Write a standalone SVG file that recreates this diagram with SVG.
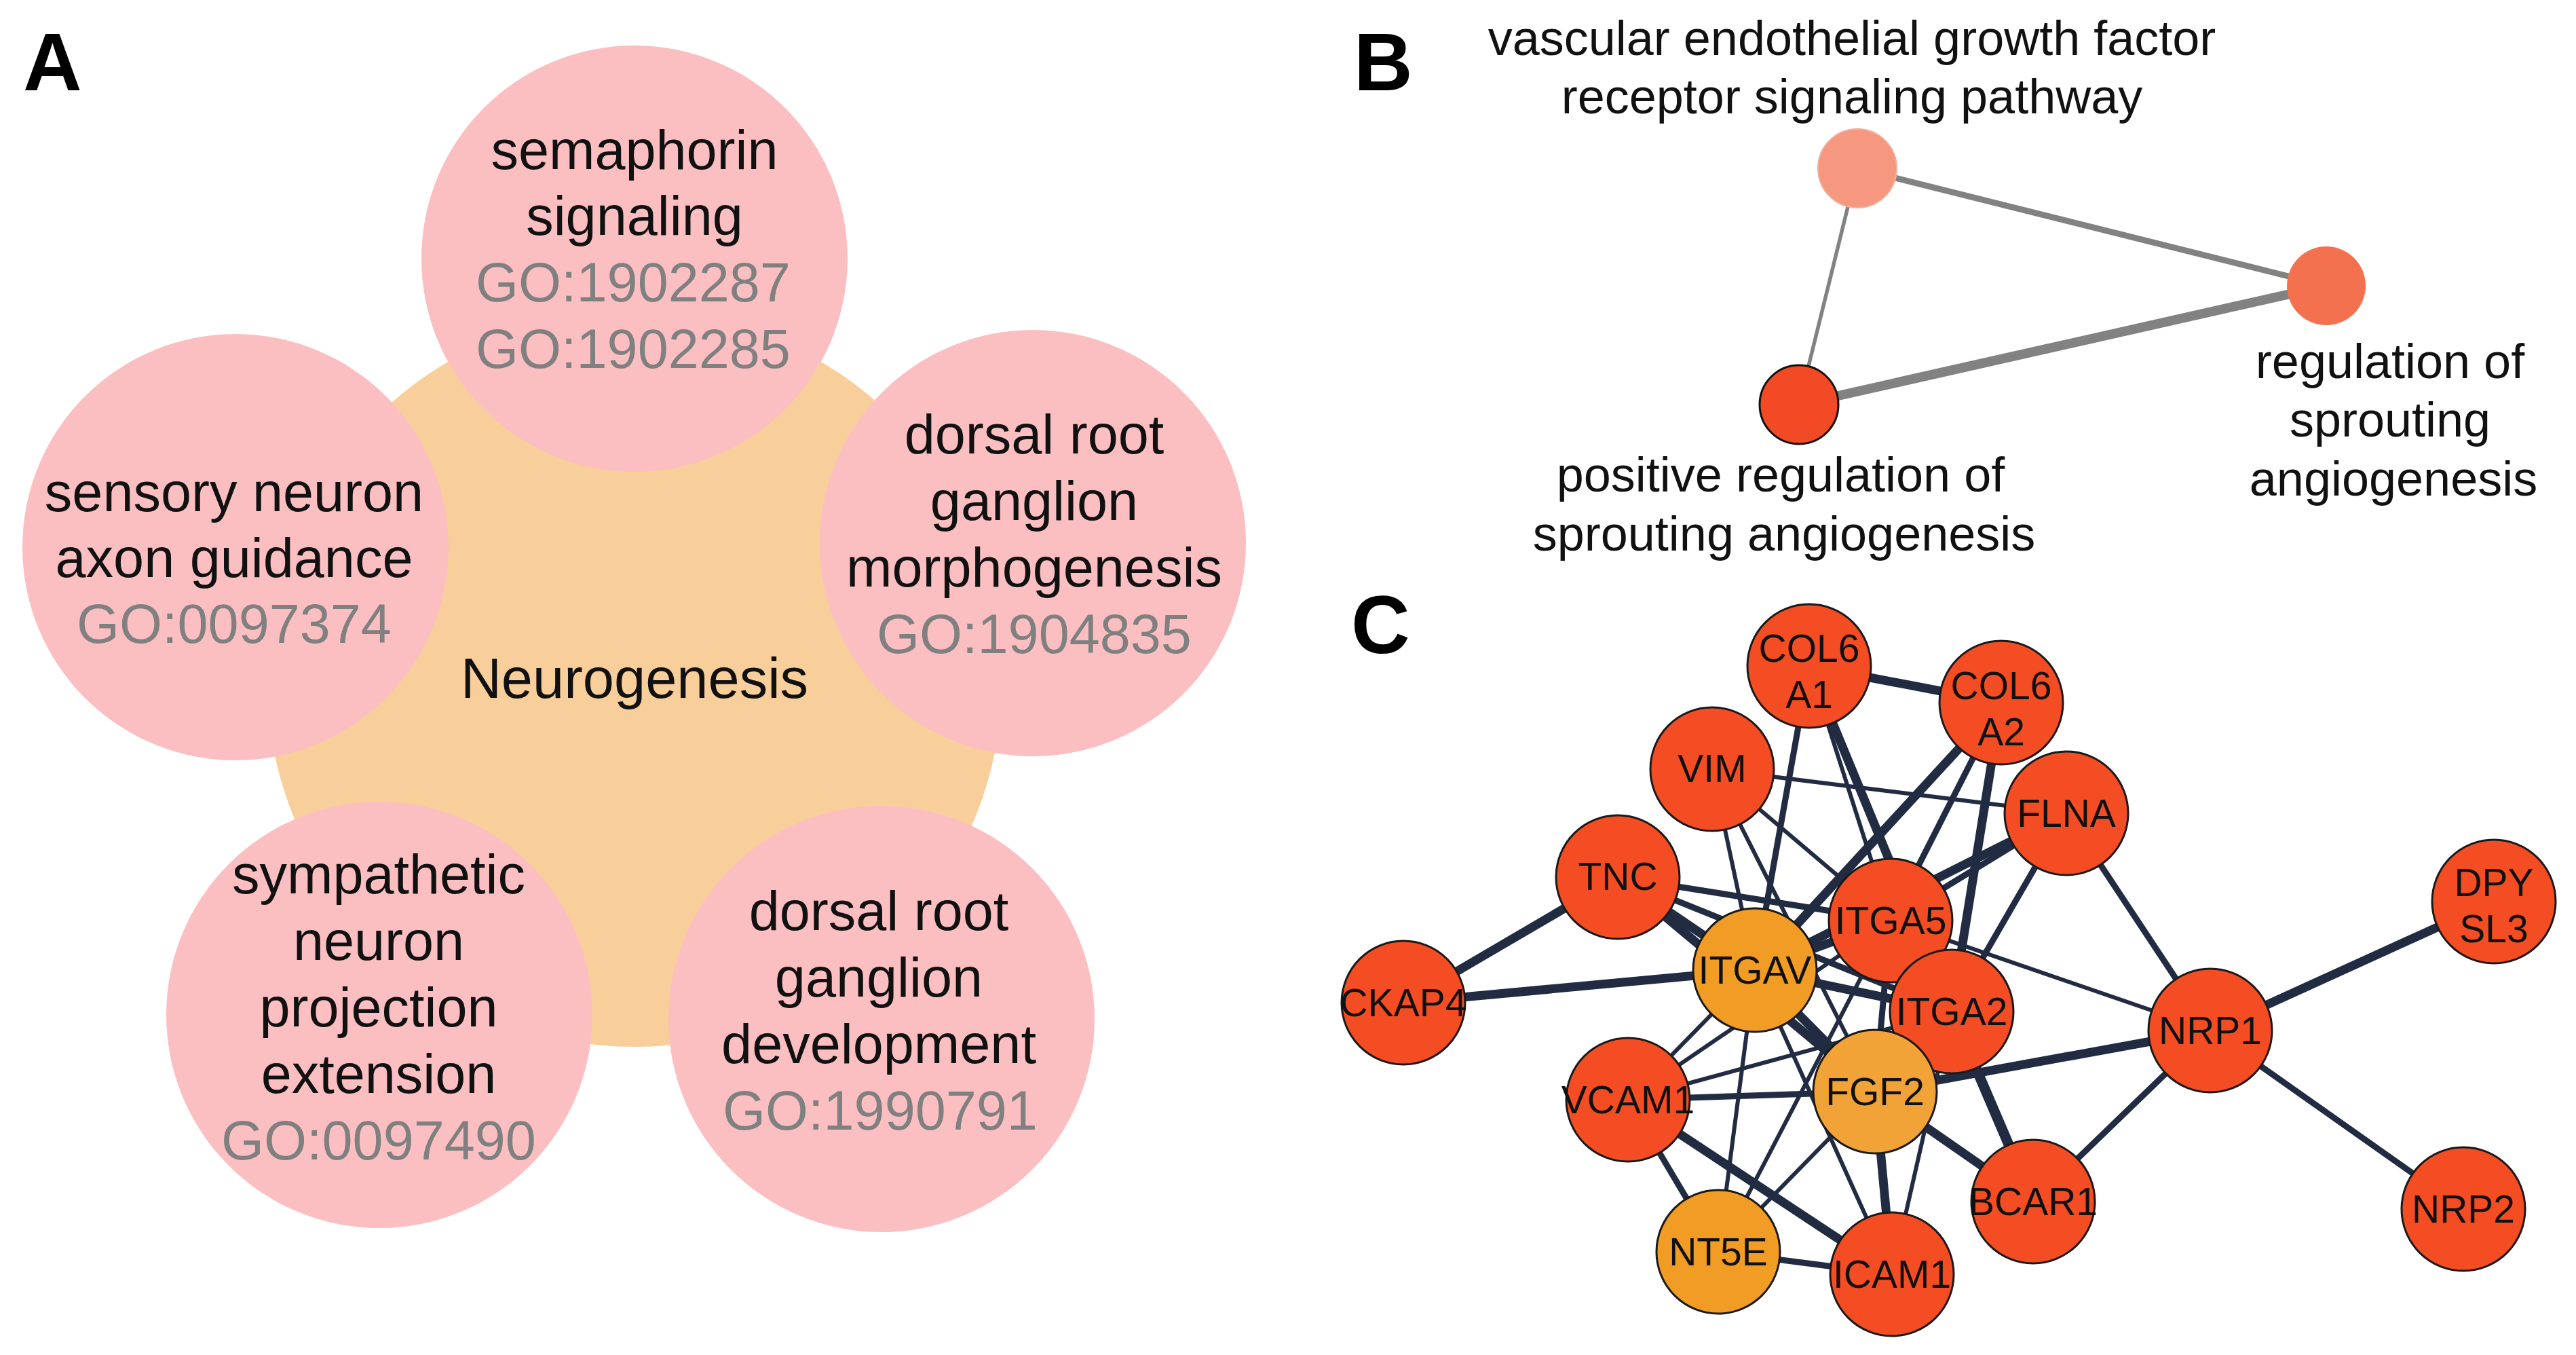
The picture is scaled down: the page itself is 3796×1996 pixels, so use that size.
<svg xmlns="http://www.w3.org/2000/svg" width="3796" height="1996" viewBox="0 0 3796 1996">
<style>
text{font-family:"Liberation Sans",Arial,sans-serif}
.lbl{font-size:120px;font-weight:bold;fill:#000}
.ta{font-size:81px;fill:#111;text-anchor:middle}
.go{font-size:81px;fill:#808080;text-anchor:middle}
.tb{font-size:72px;fill:#111;text-anchor:middle}
.tc{font-size:57px;fill:#111;text-anchor:middle}
.pink{fill:#FBBFC1}
.eb{stroke:#828282;stroke-linecap:round}
.ec{stroke:#212B42;stroke-linecap:butt}
.w1{stroke-width:6}
.w2{stroke-width:9}
.w3{stroke-width:13}
.red{fill:#F44D24;stroke:#1a1a1a;stroke-width:3}
.org{fill:#F09C25;stroke:#1a1a1a;stroke-width:3}
</style>
<rect width="3796" height="1996" fill="#fff"/>

<!-- Panel A -->
<text class="lbl" x="34" y="133">A</text>
<g id="neurogenesis">
<circle cx="935" cy="1000" r="542" fill="#F8CF9B"/>
<text class="ta" x="935" y="1028" style="font-size:83px">Neurogenesis</text>
</g>
<g id="semaphorin">
<circle class="pink" cx="935" cy="381" r="314"/>
<text class="ta" x="935" y="249">semaphorin</text>
<text class="ta" x="935" y="346">signaling</text>
<text class="go" x="933" y="444">GO:1902287</text>
<text class="go" x="933" y="542">GO:1902285</text>
</g>
<g id="sensory">
<circle class="pink" cx="347" cy="806" r="314"/>
<text class="ta" x="345" y="753">sensory neuron</text>
<text class="ta" x="345" y="850">axon guidance</text>
<text class="go" x="345" y="947">GO:0097374</text>
</g>
<g id="drg-morph">
<circle class="pink" cx="1522" cy="800" r="314"/>
<text class="ta" x="1524" y="668">dorsal root</text>
<text class="ta" x="1524" y="766">ganglion</text>
<text class="ta" x="1524" y="864">morphogenesis</text>
<text class="go" x="1524" y="962">GO:1904835</text>
</g>
<g id="sympathetic">
<circle class="pink" cx="559" cy="1495" r="314"/>
<text class="ta" x="558" y="1316">sympathetic</text>
<text class="ta" x="558" y="1414">neuron</text>
<text class="ta" x="558" y="1512">projection</text>
<text class="ta" x="558" y="1610">extension</text>
<text class="go" x="558" y="1708">GO:0097490</text>
</g>
<g id="drg-dev">
<circle class="pink" cx="1299" cy="1501" r="314"/>
<text class="ta" x="1295" y="1370">dorsal root</text>
<text class="ta" x="1295" y="1468">ganglion</text>
<text class="ta" x="1295" y="1566">development</text>
<text class="go" x="1297" y="1664">GO:1990791</text>
</g>

<!-- Panel B -->
<text class="lbl" x="1995" y="133">B</text>
<g id="b-edges">
<line class="eb" x1="2737" y1="248" x2="3428" y2="421" stroke-width="9"/>
<line class="eb" x1="2737" y1="248" x2="2651" y2="596" stroke-width="5.5"/>
<line class="eb" x1="2651" y1="596" x2="3428" y2="421" stroke-width="14"/>
</g>
<g id="b-vegf">
<circle cx="2737" cy="248" r="58" fill="#F5987F" stroke="#F2AE9C" stroke-width="2"/>
<text class="tb" x="2729" y="81">vascular endothelial growth factor</text>
<text class="tb" x="2729" y="167">receptor signaling pathway</text>
</g>
<g id="b-reg">
<circle cx="3428" cy="421" r="58" fill="#F3714F"/>
<text class="tb" x="3522" y="557">regulation of</text>
<text class="tb" x="3522" y="643">sprouting</text>
<text class="tb" x="3527" y="730">angiogenesis</text>
</g>
<g id="b-pos">
<circle cx="2651" cy="596" r="58" fill="#F24A24" stroke="#111" stroke-width="3"/>
<text class="tb" x="2624" y="724">positive regulation of</text>
<text class="tb" x="2629" y="811">sprouting angiogenesis</text>
</g>

<!-- Panel C -->
<text class="lbl" x="1991" y="962">C</text>
<g id="c-edges" class="ec">
<line class="w3" x1="2068" y1="1477" x2="2384" y2="1292"/>
<line class="w3" x1="2068" y1="1477" x2="2586" y2="1429"/>
<line class="w3" x1="2666" y1="981" x2="2949" y2="1035"/>
<line class="w2" x1="2666" y1="981" x2="2586" y2="1429"/>
<line class="w3" x1="2666" y1="981" x2="2876" y2="1490"/>
<line class="w1" x1="2666" y1="981" x2="2786" y2="1356"/>
<line class="w3" x1="2949" y1="1035" x2="2586" y2="1429"/>
<line class="w2" x1="2949" y1="1035" x2="2786" y2="1356"/>
<line class="w3" x1="2949" y1="1035" x2="2876" y2="1490"/>
<line class="w1" x1="2523" y1="1133" x2="3045" y2="1198"/>
<line class="w1" x1="2523" y1="1133" x2="2586" y2="1429"/>
<line class="w1" x1="2523" y1="1133" x2="2763" y2="1608"/>
<line class="w1" x1="2523" y1="1133" x2="2786" y2="1356"/>
<line class="w2" x1="2384" y1="1292" x2="2786" y2="1356"/>
<line class="w3" x1="2384" y1="1292" x2="2586" y2="1429"/>
<line class="w3" x1="2384" y1="1292" x2="2763" y2="1608"/>
<line class="w2" x1="2384" y1="1292" x2="2876" y2="1490"/>
<line class="w2" x1="3045" y1="1198" x2="2786" y2="1356"/>
<line class="w3" x1="3045" y1="1198" x2="2586" y2="1429"/>
<line class="w2" x1="3045" y1="1198" x2="2876" y2="1490"/>
<line class="w2" x1="3045" y1="1198" x2="3257" y2="1518"/>
<line class="w1" x1="2786" y1="1356" x2="3257" y2="1518"/>
<line class="w3" x1="2786" y1="1356" x2="2586" y2="1429"/>
<line class="w2" x1="2786" y1="1356" x2="2876" y2="1490"/>
<line class="w2" x1="2786" y1="1356" x2="2763" y2="1608"/>
<line class="w3" x1="2586" y1="1429" x2="2876" y2="1490"/>
<line class="w3" x1="2586" y1="1429" x2="2763" y2="1608"/>
<line class="w1" x1="2586" y1="1429" x2="2399" y2="1620"/>
<line class="w1" x1="2586" y1="1429" x2="2532" y2="1844"/>
<line class="w1" x1="2586" y1="1429" x2="2788" y2="1877"/>
<line class="w1" x1="2399" y1="1620" x2="2786" y2="1356"/>
<line class="w1" x1="2399" y1="1620" x2="2876" y2="1490"/>
<line class="w2" x1="2399" y1="1620" x2="2763" y2="1608"/>
<line class="w3" x1="2399" y1="1620" x2="2788" y2="1877"/>
<line class="w2" x1="2399" y1="1620" x2="2532" y2="1844"/>
<line class="w2" x1="2532" y1="1844" x2="2788" y2="1877"/>
<line class="w1" x1="2532" y1="1844" x2="2763" y2="1608"/>
<line class="w1" x1="2532" y1="1844" x2="2786" y2="1356"/>
<line class="w3" x1="2763" y1="1608" x2="2788" y2="1877"/>
<line class="w1" x1="2876" y1="1490" x2="2788" y2="1877"/>
<line class="w2" x1="2876" y1="1490" x2="2763" y2="1608"/>
<line class="w3" x1="2763" y1="1608" x2="3257" y2="1518"/>
<line class="w3" x1="2763" y1="1608" x2="2996" y2="1770"/>
<line stroke-width="15" x1="2876" y1="1490" x2="2996" y2="1770"/>
<line class="w2" x1="3257" y1="1518" x2="2996" y2="1770"/>
<line class="w3" x1="3257" y1="1518" x2="3675" y2="1328"/>
<line class="w2" x1="3257" y1="1518" x2="3630" y2="1781"/>
</g>
<g id="COL6A1"><circle class="red" cx="2666" cy="981" r="91"/><text class="tc" x="2666" y="975">COL6</text><text class="tc" x="2666" y="1043">A1</text></g>
<g id="COL6A2"><circle class="red" cx="2949" cy="1035" r="91"/><text class="tc" x="2949" y="1030">COL6</text><text class="tc" x="2949" y="1098">A2</text></g>
<g id="VIM"><circle class="red" cx="2523" cy="1133" r="91"/><text class="tc" x="2523" y="1152">VIM</text></g>
<g id="FLNA"><circle class="red" cx="3045" cy="1198" r="91"/><text class="tc" x="3045" y="1218">FLNA</text></g>
<g id="TNC"><circle class="red" cx="2384" cy="1292" r="91"/><text class="tc" x="2384" y="1311">TNC</text></g>
<g id="DPYSL3"><circle class="red" cx="3675" cy="1328" r="91"/><text class="tc" x="3675" y="1320">DPY</text><text class="tc" x="3675" y="1388">SL3</text></g>
<g id="ITGA5"><circle class="red" cx="2786" cy="1356" r="91"/><text class="tc" x="2786" y="1376">ITGA5</text></g>
<g id="ITGA2"><circle class="red" cx="2876" cy="1490" r="91"/><text class="tc" x="2876" y="1510">ITGA2</text></g>
<g id="ITGAV"><circle class="org" cx="2586" cy="1429" r="91"/><text class="tc" x="2586" y="1449">ITGAV</text></g>
<g id="CKAP4"><circle class="red" cx="2068" cy="1477" r="91"/><text class="tc" x="2068" y="1497">CKAP4</text></g>
<g id="NRP1"><circle class="red" cx="3257" cy="1518" r="91"/><text class="tc" x="3257" y="1538">NRP1</text></g>
<g id="VCAM1"><circle class="red" cx="2399" cy="1620" r="91"/><text class="tc" x="2399" y="1640">VCAM1</text></g>
<g id="FGF2"><circle class="org" cx="2763" cy="1608" r="91" style="fill:#F2A338"/><text class="tc" x="2763" y="1628">FGF2</text></g>
<g id="BCAR1"><circle class="red" cx="2996" cy="1770" r="91"/><text class="tc" x="2996" y="1790">BCAR1</text></g>
<g id="NRP2"><circle class="red" cx="3630" cy="1781" r="91"/><text class="tc" x="3630" y="1801">NRP2</text></g>
<g id="NT5E"><circle class="org" cx="2532" cy="1844" r="91"/><text class="tc" x="2532" y="1864">NT5E</text></g>
<g id="ICAM1"><circle class="red" cx="2788" cy="1877" r="91"/><text class="tc" x="2788" y="1897">ICAM1</text></g>
</svg>
